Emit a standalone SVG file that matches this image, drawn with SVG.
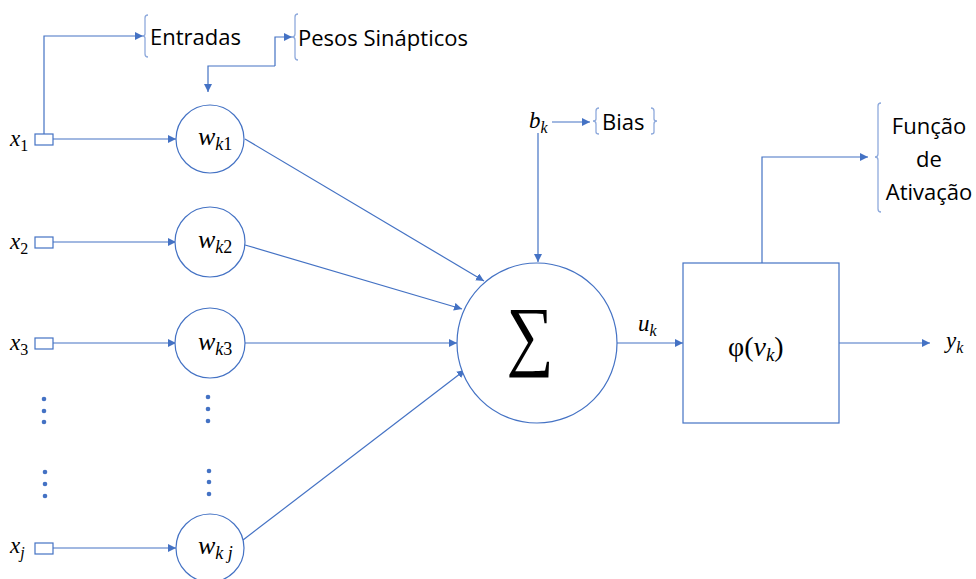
<svg xmlns="http://www.w3.org/2000/svg" width="976" height="579" viewBox="0 0 976 579">
<defs>
<marker id="ah" viewBox="0 0 10 10" refX="10" refY="5" markerWidth="8" markerHeight="8" markerUnits="userSpaceOnUse" orient="auto">
<path d="M0,0 L10,5 L0,10 z" fill="#4472C4"/>
</marker>
<style>
.ln{stroke:#4472C4;stroke-width:1.2;fill:none}
.ar{marker-end:url(#ah)}
.nd{stroke:#4472C4;stroke-width:1.2;fill:#fff}
.br{stroke:#8FAADC;stroke-width:1.3;fill:none}
.m{font-family:"Liberation Serif","DejaVu Serif",serif;font-style:italic;fill:#000;font-size:23px}
.w{font-size:26px}
.sub{font-family:"Liberation Serif","DejaVu Serif",serif;font-style:italic;font-size:16px}
.w .sub{font-size:18px}
.n{font-style:normal}
.t{font-family:"Open Sans","Liberation Sans",sans-serif;font-size:22px;fill:#000}
.dot{fill:#4472C4}
</style>
</defs>
<rect width="976" height="579" fill="#fff"/>

<g id="connectors">
<path class="ln ar" d="M53,139 H176"/>
<path class="ln ar" d="M53,242 H176"/>
<path class="ln ar" d="M53,343 H176"/>
<path class="ln ar" d="M53,548 H176"/>
<path class="ln ar" d="M245,139 L484,281"/>
<path class="ln ar" d="M245,245 L462,309"/>
<path class="ln ar" d="M245,343 L457,343"/>
<path class="ln ar" d="M243,540 L465,370"/>
<path class="ln ar" d="M538,133 V262"/>
<path class="ln ar" d="M552,122 H590"/>
<path class="ln ar" d="M617,343 H683"/>
<path class="ln ar" d="M839,343 H930"/>
<path class="ln ar" d="M762,263 V157 H868"/>
<path class="ln ar" d="M44,134 V36 H143"/>
<path class="ln ar" d="M275,66 V37 H292"/>
<path class="ln ar" d="M275,66 H208 V92"/>
</g>

<g id="inputs">
<rect class="nd" x="35" y="134" width="18" height="11"/>
<rect class="nd" x="35" y="237" width="18" height="11"/>
<rect class="nd" x="35" y="338" width="18" height="11"/>
<rect class="nd" x="35" y="543" width="18" height="11"/>
<text class="m" x="10" y="146">x<tspan class="sub n" dy="5">1</tspan></text>
<text class="m" x="10" y="249">x<tspan class="sub n" dy="5">2</tspan></text>
<text class="m" x="10" y="350">x<tspan class="sub n" dy="5">3</tspan></text>
<text class="m" x="10" y="553">x<tspan class="sub" dy="5">j</tspan></text>
</g>

<g id="weights">
<circle class="nd" cx="210" cy="139" r="34"/>
<circle class="nd" cx="210" cy="242" r="35"/>
<circle class="nd" cx="210" cy="343" r="35"/>
<circle class="nd" cx="210" cy="548" r="34"/>
<text class="m w" x="198" y="145">w<tspan class="sub" dy="5">k</tspan><tspan class="sub n">1</tspan></text>
<text class="m w" x="198" y="248">w<tspan class="sub" dy="5">k</tspan><tspan class="sub n">2</tspan></text>
<text class="m w" x="198" y="350">w<tspan class="sub" dy="5">k</tspan><tspan class="sub n">3</tspan></text>
<text class="m w" x="198" y="554">w<tspan class="sub" dy="5">k j</tspan></text>
</g>

<g id="dots">
<circle class="dot" cx="44" cy="399" r="2.3"/><circle class="dot" cx="44" cy="411" r="2.3"/><circle class="dot" cx="44" cy="422" r="2.3"/>
<circle class="dot" cx="45" cy="472" r="2.3"/><circle class="dot" cx="45" cy="484" r="2.3"/><circle class="dot" cx="45" cy="496" r="2.3"/>
<circle class="dot" cx="208" cy="397" r="2.3"/><circle class="dot" cx="208" cy="409" r="2.3"/><circle class="dot" cx="208" cy="421" r="2.3"/>
<circle class="dot" cx="209" cy="471" r="2.3"/><circle class="dot" cx="209" cy="482" r="2.3"/><circle class="dot" cx="209" cy="494" r="2.3"/>
</g>

<g id="sum">
<circle class="nd" cx="537" cy="343" r="80"/>
<text transform="translate(530,361) scale(0.85,1)" x="0" y="0" font-family="Liberation Serif,DejaVu Serif,serif" font-size="78" text-anchor="middle">∑</text>
</g>

<g id="bias">
<text class="m" x="529" y="128">b<tspan class="sub" dy="5">k</tspan></text>
<path class="br" d="M599,108 Q596,108 596,111 V119 Q596,121 593,121 Q596,121 596,124 V132 Q596,134 599,134"/>
<path class="br" d="M651,108 Q654,108 654,111 V119 Q654,121 657,121 Q654,121 654,124 V132 Q654,134 651,134"/>
<text class="t" x="602" y="130">Bias</text>
</g>

<g id="activation">
<rect class="nd" x="683" y="263" width="156" height="160"/>
<text x="728" y="356" font-family="Liberation Serif,DejaVu Serif,serif" font-size="28">φ(<tspan font-style="italic">v</tspan><tspan font-style="italic" font-size="19" dy="5">k</tspan><tspan dy="-5">)</tspan></text>
</g>

<g id="labels">
<text class="m" x="638" y="331">u<tspan class="sub" dy="5">k</tspan></text>
<text class="m" x="946" y="348">y<tspan class="sub" dy="5">k</tspan></text>
</g>

<g id="entradas">
<path class="br" d="M148,15 Q145,15 145,18 V34 Q145,36 142,36 Q145,36 145,38 V54 Q145,57 148,57"/>
<text class="t" x="150" y="45">Entradas</text>
</g>

<g id="pesos">
<path class="br" d="M298,14 Q295,14 295,17 V34 Q295,37 292,37 Q295,37 295,40 V57 Q295,60 298,60"/>
<text class="t" x="298" y="46">Pesos Sinápticos</text>
</g>

<g id="funcao">
<path class="br" d="M881,103 Q878,103 878,106 V154 Q878,157 875,157 Q878,157 878,160 V209 Q878,212 881,212"/>
<text class="t" x="929" y="134" text-anchor="middle">Função</text>
<text class="t" x="929" y="167" text-anchor="middle">de</text>
<text class="t" x="929" y="200" text-anchor="middle">Ativação</text>
</g>
</svg>
